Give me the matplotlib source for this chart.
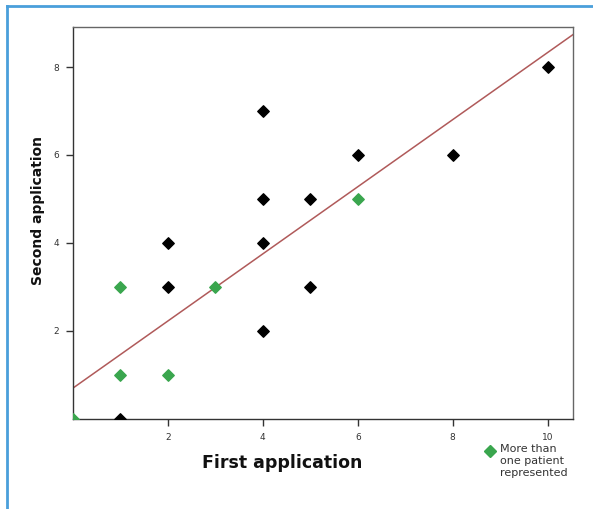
import numpy as np
import matplotlib.pyplot as plt
from matplotlib.lines import Line2D

# 数据：单个患者（黑色）与多个患者重叠（绿色）
x_single = [1, 2, 2, 4, 4, 4, 4, 5, 5, 6, 8, 10]
y_single = [0, 4, 3, 7, 5, 4, 2, 5, 3, 6, 6, 8]
x_multi = [0, 1, 1, 2, 3, 6]
y_multi = [0, 3, 1, 1, 3, 5]
# 回归线
line_intercept = 0.70
line_slope = 0.763

fig = plt.figure(figsize=(5.93, 5.09), dpi=100)
ax = fig.add_axes([0.123, 0.177, 0.843, 0.770])

xmin, xmax = 0, 10.53
ymin, ymax = 0, 8.91
xl = np.array([xmin, xmax])
ax.plot(xl, line_intercept + line_slope * xl, color='#b05a5a', lw=1.1, zorder=2)
ax.scatter(x_single, y_single, marker='D', s=34, color='black', zorder=3)
ax.scatter(x_multi, y_multi, marker='D', s=34, color='#3aa64e', zorder=3)

ax.set_xlim(xmin, xmax)
ax.set_ylim(ymin, ymax)
ax.set_xticks([2, 4, 6, 8, 10])
ax.set_yticks([2, 4, 6, 8])
ax.tick_params(labelsize=6.5, length=5, width=1, colors='#333333', pad=5)
for s in ax.spines.values():
    s.set_color('#666666')
    s.set_linewidth(1.0)
ax.spines['bottom'].set_color('#333333')
ax.spines['left'].set_color('#333333')

fig.text(0.064, 0.586, 'Second application', rotation=90, ha='center', va='center',
         fontsize=10, fontweight='bold', color='#111111')
fig.text(0.476, 0.091, 'First application', ha='center', va='center',
         fontsize=12.5, fontweight='bold', color='#111111')

# 图例
fig.add_artist(Line2D([490 / 593], [1 - 451 / 509], marker='D', markersize=6,
                      color='#3aa64e', linestyle='none', transform=fig.transFigure))
fig.text(500 / 593, 1 - 444 / 509, 'More than\none patient\nrepresented', ha='left', va='top',
         fontsize=8, color='#333333', linespacing=1.25)

# 蓝色边框（左、上）
fig.add_artist(Line2D([7 / 593, 7 / 593], [0, 1 - 6 / 509], color='#4a9fdb', lw=2,
                      transform=fig.transFigure))
fig.add_artist(Line2D([7 / 593, 1], [1 - 6 / 509, 1 - 6 / 509], color='#4a9fdb', lw=2,
                      transform=fig.transFigure))

fig.savefig('out.png', dpi=100)
